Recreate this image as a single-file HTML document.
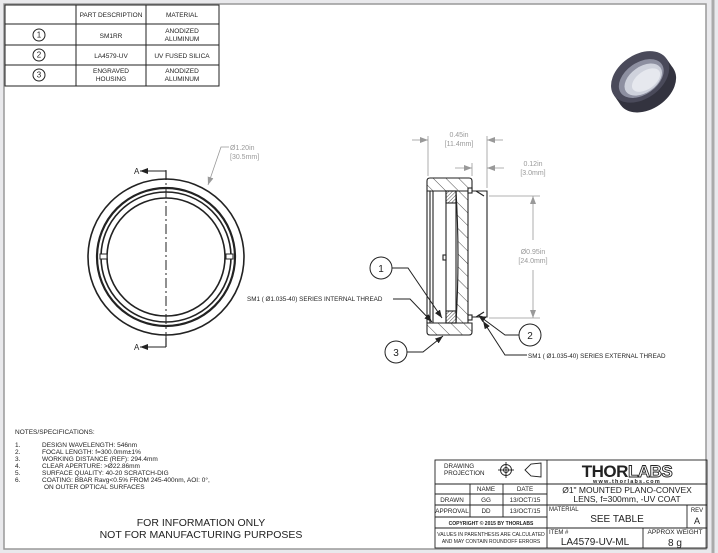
<!DOCTYPE html>
<html><head><meta charset="utf-8"><style>
html,body{margin:0;padding:0;background:#fff;}
svg{display:block;font-family:"Liberation Sans",sans-serif;}
</style></head><body>
<svg width="718" height="553" viewBox="0 0 718 553" xmlns="http://www.w3.org/2000/svg">
<defs>
<pattern id="h" patternUnits="userSpaceOnUse" width="9" height="9" patternTransform="rotate(-45)"><line x1="0" y1="0" x2="0" y2="9" stroke="#222" stroke-width="0.8"/></pattern>
<pattern id="x" patternUnits="userSpaceOnUse" width="2.5" height="2.5" patternTransform="rotate(45)"><line x1="0" y1="0" x2="0" y2="2.5" stroke="#222" stroke-width="0.8"/></pattern>
<marker id="ar" markerWidth="8" markerHeight="6" refX="8" refY="3" orient="auto" markerUnits="userSpaceOnUse"><path d="M0,0L8,3L0,6z" fill="#222"/></marker>
<marker id="ag" markerWidth="8" markerHeight="6" refX="8" refY="3" orient="auto" markerUnits="userSpaceOnUse"><path d="M0,0L8,3L0,6z" fill="#999"/></marker>
</defs>
<rect x="0" y="0" width="718" height="553" fill="#e9e9ec"/>
<rect x="4" y="4" width="702" height="545" fill="#fff" stroke="#999" stroke-width="1.5"/>
<line x1="713" y1="0" x2="713" y2="553" stroke="#aaa" stroke-width="3"/>

<!-- parts table -->
<g stroke="#222" stroke-width="1" fill="none">
<rect x="5" y="5" width="214" height="81"/>
<line x1="76" y1="5" x2="76" y2="86"/><line x1="146" y1="5" x2="146" y2="86"/>
<line x1="5" y1="24" x2="219" y2="24"/><line x1="5" y1="45" x2="219" y2="45"/><line x1="5" y1="65" x2="219" y2="65"/>
<circle cx="39" cy="35" r="6"/><circle cx="39" cy="55" r="6"/><circle cx="39" cy="75" r="6"/>
</g>
<g font-size="6.5" fill="#222" text-anchor="middle">
<text x="111" y="17">PART DESCRIPTION</text><text x="182" y="17">MATERIAL</text>
<text x="39" y="37.5" font-size="8">1</text><text x="39" y="57.5" font-size="8">2</text><text x="39" y="77.5" font-size="8">3</text>
<text x="111" y="38">SM1RR</text><text x="182" y="33">ANODIZED</text><text x="182" y="41">ALUMINUM</text>
<text x="111" y="58">LA4579-UV</text><text x="182" y="58">UV FUSED SILICA</text>
<text x="111" y="73">ENGRAVED</text><text x="111" y="81">HOUSING</text><text x="182" y="73">ANODIZED</text><text x="182" y="81">ALUMINUM</text>
</g>

<!-- product image -->
<g transform="translate(643,81) rotate(-35)">
<ellipse cx="0" cy="7" rx="32" ry="22" fill="#33333f"/>
<rect x="-32" y="-5" width="64" height="12" fill="#33333f"/>
<ellipse cx="0" cy="-5" rx="32" ry="22" fill="#4a4a5a"/>
<ellipse cx="0" cy="-3" rx="25" ry="16" fill="#8d8fa0"/>
<ellipse cx="1" cy="-1" rx="21" ry="13" fill="#cfd2dc"/>
<ellipse cx="3" cy="1" rx="16" ry="9" fill="#e6e8ee"/>
</g>

<!-- front view -->
<g stroke="#222" fill="none">
<circle cx="166" cy="257" r="78" stroke-width="1.6"/>
<circle cx="166" cy="257" r="69" stroke-width="2.2"/>
<circle cx="166" cy="257" r="65" stroke-width="1.6"/>
<circle cx="166" cy="257" r="59" stroke-width="1.6"/>
<line x1="166" y1="170" x2="166" y2="347" stroke-width="1" stroke-dasharray="10,3,2,3"/>
<line x1="166" y1="171" x2="166" y2="180" stroke-width="1.2"/>
<line x1="166" y1="338" x2="166" y2="347" stroke-width="1.2"/>
<line x1="166" y1="171" x2="140" y2="171" stroke-width="1" marker-end="url(#ar)"/>
<line x1="166" y1="347" x2="140" y2="347" stroke-width="1" marker-end="url(#ar)"/>
<rect x="100" y="254" width="7" height="5" fill="#fff" stroke-width="1"/>
<rect x="226" y="254" width="7" height="5" fill="#fff" stroke-width="1"/>
</g>
<text x="134" y="174" font-size="8" fill="#222">A</text>
<text x="134" y="350" font-size="8" fill="#222">A</text>
<polyline points="229,147 221,147 208,185" fill="none" stroke="#999" stroke-width="0.8" marker-end="url(#ag)"/>
<g font-size="7" fill="#999"><text x="230" y="150">Ø1.20in</text><text x="230" y="159">[30.5mm]</text></g>

<!-- section view -->
<g stroke="#222" stroke-width="1.1">
<path d="M427,181 Q427,178 430,178 L469,178 Q472,178 472,181 L472,191 L427,191 Z" fill="url(#h)"/>
<path d="M427,323 L472,323 L472,332 Q472,335 469,335 L430,335 Q427,335 427,332 Z" fill="url(#h)"/>
<line x1="427" y1="191" x2="427" y2="323"/>
<line x1="430" y1="191" x2="430" y2="323"/>
<line x1="433" y1="191" x2="433" y2="323"/>
<rect x="446" y="191" width="10" height="132" fill="#fff"/>
<rect x="446" y="191" width="10" height="12" fill="url(#x)"/>
<rect x="446" y="311" width="10" height="12" fill="url(#x)"/>
<path d="M456,191 L468,191 L468,323 L456,323 Q460,257 456,191Z" fill="url(#h)"/>
<rect x="443" y="255" width="3" height="5" fill="#fff"/>
<path d="M472,191 L487,191 L487,317 L472,317" fill="#fff"/>
<rect x="468" y="188" width="4" height="5" fill="#fff"/><rect x="468" y="315" width="4" height="5" fill="#fff"/>
<line x1="476" y1="191" x2="484" y2="196"/><line x1="476" y1="317" x2="484" y2="312"/>
</g>
<!-- dims -->
<g stroke="#999" stroke-width="0.8" fill="none">
<line x1="428" y1="136" x2="428" y2="176"/><line x1="487" y1="136" x2="487" y2="188"/>
<line x1="412" y1="140" x2="428" y2="140" marker-end="url(#ag)"/><line x1="503" y1="140" x2="487" y2="140" marker-end="url(#ag)"/>
<line x1="472" y1="163" x2="472" y2="176"/>
<line x1="455" y1="168" x2="472" y2="168" marker-end="url(#ag)"/><line x1="504" y1="168" x2="487" y2="168" marker-end="url(#ag)"/>
<line x1="489" y1="196" x2="540" y2="196"/><line x1="489" y1="318" x2="540" y2="318"/>
<line x1="533" y1="240" x2="533" y2="196" marker-end="url(#ag)"/><line x1="533" y1="270" x2="533" y2="318" marker-end="url(#ag)"/>
</g>
<g font-size="7" fill="#999" text-anchor="middle">
<text x="459" y="137">0.45in</text><text x="459" y="146">[11.4mm]</text>
<text x="533" y="166">0.12in</text><text x="533" y="175">[3.0mm]</text>
<text x="533" y="254">Ø0.95in</text><text x="533" y="263">[24.0mm]</text>
</g>
<!-- callouts -->
<g stroke="#222" stroke-width="1" fill="none">
<circle cx="381" cy="268" r="11" fill="#fff"/><polyline points="392,268 408,268 442,318" marker-end="url(#ar)"/>
<circle cx="396" cy="352" r="11" fill="#fff"/><polyline points="407,352 423,352 443,336" marker-end="url(#ar)"/>
<circle cx="530" cy="335" r="11" fill="#fff"/><polyline points="519,335 505,335 478,315" marker-end="url(#ar)"/>
<polyline points="393,299 410,299 432,322" marker-end="url(#ar)"/>
<polyline points="527,355 505,355 483,321" marker-end="url(#ar)"/>
</g>
<g font-size="10" fill="#222" text-anchor="middle">
<text x="381" y="272">1</text><text x="396" y="356">3</text><text x="530" y="339">2</text>
</g>
<g font-size="6.3" fill="#222">
<text x="247" y="301">SM1 ( Ø1.035-40) SERIES INTERNAL THREAD</text>
<text x="528" y="358">SM1 ( Ø1.035-40) SERIES EXTERNAL THREAD</text>
</g>

<!-- notes -->
<g font-size="6.5" fill="#222">
<text x="15" y="434">NOTES/SPECIFICATIONS:</text>
<text x="15" y="447">1.</text><text x="42" y="447">DESIGN WAVELENGTH: 546nm</text>
<text x="15" y="454">2.</text><text x="42" y="454">FOCAL LENGTH: f=300.0mm±1%</text>
<text x="15" y="461">3.</text><text x="42" y="461">WORKING DISTANCE (REF): 294.4mm</text>
<text x="15" y="468">4.</text><text x="42" y="468">CLEAR APERTURE: &gt;Ø22.86mm</text>
<text x="15" y="475">5.</text><text x="42" y="475">SURFACE QUALITY: 40-20 SCRATCH-DIG</text>
<text x="15" y="482">6.</text><text x="42" y="482">COATING: BBAR Ravg&lt;0.5% FROM 245-400nm, AOI: 0°,</text>
<text x="44" y="489">ON OUTER OPTICAL SURFACES</text>
</g>
<g font-size="10.5" fill="#222" text-anchor="middle">
<text x="201" y="526">FOR INFORMATION ONLY</text>
<text x="201" y="538">NOT FOR MANUFACTURING PURPOSES</text>
</g>

<!-- title block -->
<g stroke="#222" stroke-width="0.9" fill="none">
<rect x="435" y="460" width="272" height="88"/>
<line x1="547" y1="460" x2="547" y2="548"/>
<line x1="435" y1="484" x2="707" y2="484"/>
<line x1="435" y1="494" x2="547" y2="494"/>
<line x1="435" y1="505" x2="707" y2="505"/>
<line x1="435" y1="517" x2="547" y2="517"/>
<line x1="435" y1="528" x2="707" y2="528"/>
<line x1="470" y1="484" x2="470" y2="517"/><line x1="503" y1="484" x2="503" y2="517"/>
<line x1="687" y1="505" x2="687" y2="528"/><line x1="643" y1="528" x2="643" y2="548"/>
<circle cx="506" cy="470" r="5.5"/><circle cx="506" cy="470" r="2.5"/>
<line x1="498" y1="470" x2="514" y2="470"/><line x1="506" y1="462" x2="506" y2="478"/>
<path d="M525,470 L531,464 L541,463 L541,477 L531,476 Z"/>
</g>
<g fill="#222">
<text x="444" y="468" font-size="6.3">DRAWING</text><text x="444" y="475" font-size="6.3">PROJECTION</text>
<g font-size="6.3" text-anchor="middle">
<text x="486" y="491">NAME</text><text x="525" y="491">DATE</text>
<text x="452" y="502">DRAWN</text><text x="486" y="502">GG</text><text x="525" y="502">13/OCT/15</text>
<text x="452" y="513">APPROVAL</text><text x="486" y="513">DD</text><text x="525" y="513">13/OCT/15</text>
<text x="491" y="525" font-size="5" font-weight="bold">COPYRIGHT © 2015 BY THORLABS</text>
<text x="491" y="536" font-size="5">VALUES IN PARENTHESIS ARE CALCULATED</text>
<text x="491" y="543" font-size="5">AND MAY CONTAIN ROUNDOFF ERRORS</text>
</g>
<text x="627" y="477" font-size="17" font-weight="bold" text-anchor="middle" letter-spacing="-0.5">THOR<tspan fill="#fff" stroke="#222" stroke-width="0.9">LABS</tspan></text>
<text x="627" y="483" font-size="5.5" font-weight="bold" text-anchor="middle" letter-spacing="1.2">www.thorlabs.com</text>
<text x="627" y="493" font-size="8.5" text-anchor="middle">Ø1" MOUNTED PLANO-CONVEX</text>
<text x="627" y="502" font-size="8.5" text-anchor="middle">LENS, f=300mm, -UV COAT</text>
<text x="549" y="511" font-size="6">MATERIAL</text>
<text x="617" y="522" font-size="10" text-anchor="middle">SEE TABLE</text>
<text x="697" y="512" font-size="6" text-anchor="middle">REV</text>
<text x="697" y="524" font-size="9" text-anchor="middle">A</text>
<text x="549" y="534" font-size="6">ITEM #</text>
<text x="595" y="545" font-size="10" text-anchor="middle">LA4579-UV-ML</text>
<text x="675" y="534" font-size="6.5" text-anchor="middle">APPROX WEIGHT</text>
<text x="675" y="546" font-size="10" text-anchor="middle">8 g</text>
</g>
</svg>
</body></html>
